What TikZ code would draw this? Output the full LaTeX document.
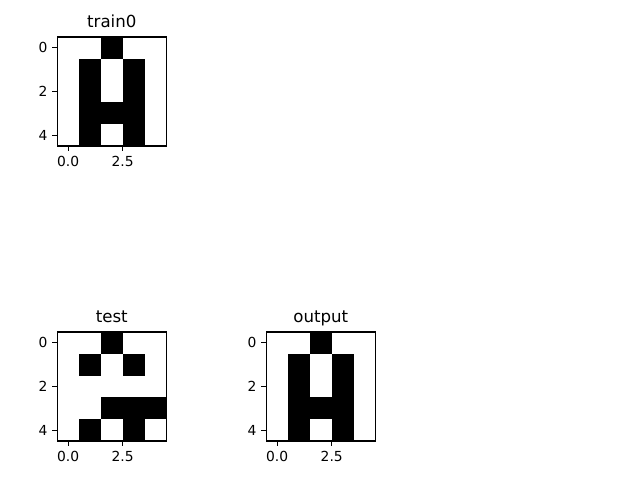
\documentclass[tikz,border=0pt]{standalone}
\usepackage{fontspec}
\setmainfont{DejaVu Sans}
\usepackage{tikz}
\tikzset{
  cell/.style={fill=black},
  spine/.style={draw=black, line width=0.8pt},
  tickmark/.style={draw=black, line width=0.8pt},
  ticklbl/.style={font=\fontsize{10}{12}\selectfont, inner sep=0pt},
  ttl/.style={font=\fontsize{12}{14}\selectfont, inner sep=0pt, anchor=base},
}
% one panel: #1,#2 top-left corner (px), #3 name, #4 title, #5 black cells col/row
\newcommand{\panel}[5]{%
  \begin{scope}[shift={(#1,#2)}]
    \foreach \c/\r in {#5} \fill[cell] (\c*21.8,\r*21.8) rectangle ++(21.8,21.8);
    \draw[spine] (0,0) rectangle (109,109);
    \foreach \r in {0,2,4} {
      \draw[tickmark] (0,\r*21.8+10.9) -- ++(-4.9,0);
      \node[ticklbl, anchor=east] (#3-y\r) at (-9.7,\r*21.8+10.9) {\r};
    }
    \draw[tickmark] (10.9,109) -- ++(0,4.9);
    \draw[tickmark] (65.4,109) -- ++(0,4.9);
    \node[ticklbl, anchor=north] (#3-x0) at (10.9,118.7) {0.0};
    \node[ticklbl, anchor=north] (#3-x1) at (65.4,118.7) {2.5};
    \node[ttl] (#3-title) at (54.5,-9) {#4};
  \end{scope}}

\begin{document}
\begin{tikzpicture}[x=0.01in, y=-0.01in]
  \useasboundingbox (0,0) rectangle (640,480);

  \panel{57.3}{37}{train}{train0}{2/0, 1/1, 3/1, 1/2, 3/2, 1/3, 2/3, 3/3, 1/4, 3/4}
  \panel{57.3}{332}{test}{test}{2/0, 1/1, 3/1, 2/3, 3/3, 4/3, 1/4, 3/4}
  \panel{266.3}{332}{out}{output}{2/0, 1/1, 3/1, 1/2, 3/2, 1/3, 2/3, 3/3, 1/4, 3/4}
\end{tikzpicture}
\end{document}
